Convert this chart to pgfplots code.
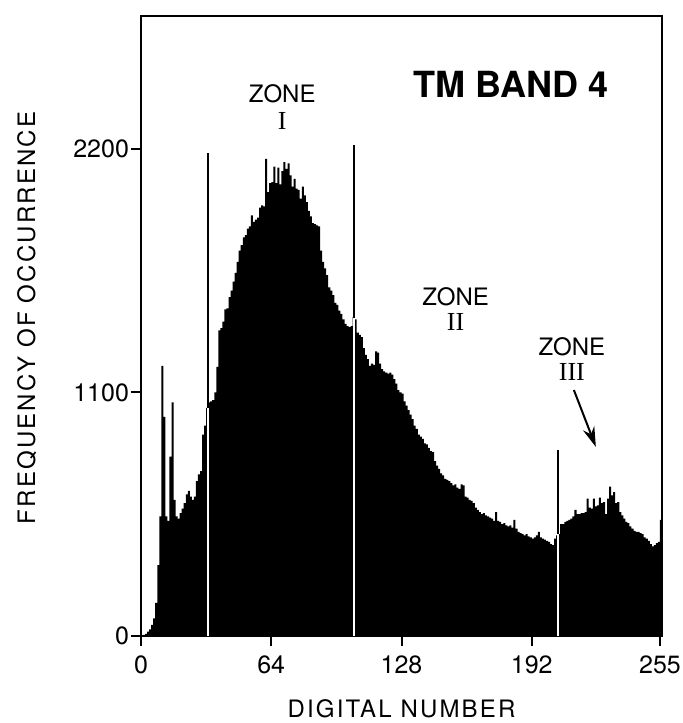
\documentclass[border=0pt]{standalone}
\usepackage{fontspec}
\setmainfont{TeX Gyre Heros}
\newfontfamily\serifnum{Liberation Serif}
\newfontfamily\lblfont[LetterSpace=9]{TeX Gyre Heros}
\usepackage{pgfplots}
\pgfplotsset{compat=1.18}
\usetikzlibrary{arrows.meta}

\pgfplotstableread{
x y
0 0
1 5
2 10
3 20
4 30
5 50
6 80
7 150
8 320
9 540
10 1220
11 990
12 540
13 520
14 810
15 1055
16 615
17 540
18 530
19 555
20 575
21 600
22 640
23 655
24 630
25 615
26 630
27 700
28 730
29 745
30 910
31 950
32 1030
33 1055
34 1060
35 1065
36 1100
37 1215
38 1380
39 1390
40 1420
41 1475
42 1480
43 1530
44 1560
45 1600
46 1640
47 1690
48 1740
49 1765
50 1800
51 1810
52 1840
53 1850
54 1900
55 1870
56 1880
57 1890
58 1935
59 1945
60 1940
61 2155
62 2005
63 2045
64 2050
65 2120
66 2045
67 2115
68 2040
69 2100
70 2140
71 2110
72 2135
73 2080
74 2030
75 2065
76 2020
77 2015
78 1975
79 2030
80 1990
81 1960
82 1920
83 1895
84 1865
85 1860
86 1855
87 1850
88 1740
89 1690
90 1660
91 1630
92 1575
93 1560
94 1540
95 1505
96 1495
97 1470
98 1455
99 1430
100 1410
101 1400
102 1395
103 1400
104 1440
105 1430
106 1370
107 1360
108 1350
109 1300
110 1270
111 1250
112 1220
113 1230
114 1225
115 1285
116 1280
117 1230
118 1205
119 1195
120 1190
121 1185
122 1190
123 1180
124 1160
125 1140
126 1110
127 1100
128 1095
129 1060
130 1040
131 1020
132 1000
133 980
134 950
135 935
136 910
137 900
138 890
139 870
140 865
141 850
142 835
143 830
144 790
145 770
146 755
147 735
148 725
149 710
150 705
151 700
152 690
153 680
154 685
155 670
156 665
157 685
158 680
159 630
160 625
161 615
162 610
163 600
164 580
165 570
166 560
167 550
168 555
169 545
170 540
171 535
172 530
173 520
174 560
175 520
176 515
177 505
178 510
179 500
180 495
181 500
182 490
183 525
184 485
185 470
186 465
187 460
188 455
189 460
190 450
191 445
192 440
193 445
194 455
195 470
196 445
197 440
198 435
199 430
200 425
201 415
202 410
203 440
204 455
205 460
206 505
207 505
208 515
209 520
210 525
211 530
212 540
213 570
214 550
215 550
216 555
217 555
218 560
219 620
220 580
221 575
222 620
223 585
224 590
225 625
226 600
227 605
228 550
229 620
230 675
231 635
232 650
233 600
234 605
235 560
236 545
237 530
238 515
239 510
240 495
241 485
242 475
243 470
244 470
245 465
246 460
247 445
248 440
249 430
250 415
251 405
252 410
253 420
254 425
255 525
256 525
}\histdata

\begin{document}
\begin{tikzpicture}
\begin{axis}[
  scale only axis, width=260.5pt, height=310pt,
  xmin=0, xmax=256, ymin=0, ymax=2800,
  axis line style={line width=1pt},
  xtick={0,64,128,192,255}, ytick={0,1100,2200},
  tick align=outside, major tick length=5pt,
  tick style={line width=1pt, black},
  xtick pos=bottom, ytick pos=left,
  /pgf/number format/assume math mode=true,
  /pgf/number format/1000 sep={},
  tick label style={font=\fontsize{12.5}{14}\selectfont},
  yticklabel style={xshift=2.5pt},
  xticklabel style={yshift=-1.5pt},
  xlabel={DIGITAL NUMBER}, ylabel={FREQUENCY OF OCCURRENCE},
  label style={font=\lblfont\fontsize{12}{14}\selectfont},
  xlabel style={at={(axis description cs:0.5,-0.118)}, anchor=center},
  ylabel style={at={(axis description cs:-0.219,0.513)}, anchor=center},
  clip=false,
]
\addplot[const plot, fill=black, draw=none] table[x=x,y=y] {\histdata} \closedcycle;
% threshold lines: black over full height, white inside the bars
\addplot[black, line width=1pt] coordinates {(32.7,0) (32.7,2180)};
\addplot[white, line width=1pt] coordinates {(32.7,0) (32.7,1030)};
\addplot[black, line width=1pt] coordinates {(104.6,0) (104.6,2218)};
\addplot[white, line width=1pt] coordinates {(104.6,0) (104.6,1436)};
\addplot[black, line width=1pt] coordinates {(205.1,0) (205.1,840)};
\addplot[white, line width=1pt] coordinates {(205.1,0) (205.1,460)};

\node[font=\fontsize{12}{14}\selectfont] at (axis cs:69.4,2448) {ZONE};
\node[font=\serifnum\fontsize{13}{14}\selectfont] at (axis cs:69.4,2326) {I};
\node[font=\bfseries\fontsize{18}{20}\selectfont] at (axis cs:181.7,2489) {TM BAND 4};
\node[font=\fontsize{12}{14}\selectfont] at (axis cs:154.6,1531) {ZONE};
\node[font=\serifnum\fontsize{13}{14}\selectfont] at (axis cs:154.6,1418) {II};
\node[font=\fontsize{12}{14}\selectfont] at (axis cs:211.7,1305) {ZONE};
\node[font=\serifnum\fontsize{13}{14}\selectfont] at (axis cs:211.7,1192) {III};
\draw[-{Stealth[length=10pt,width=6pt]}, line width=1pt] (axis cs:212.7,1111) -- (axis cs:223.5,854);

\coordinate (SW) at (rel axis cs:0,0);
\coordinate (NE) at (rel axis cs:1,1);
\end{axis}
\pgfresetboundingbox
\path[use as bounding box] ([shift={(-70.5pt,-43.5pt)}]SW) rectangle ([shift={(10pt,8pt)}]NE);
\end{tikzpicture}
\end{document}
